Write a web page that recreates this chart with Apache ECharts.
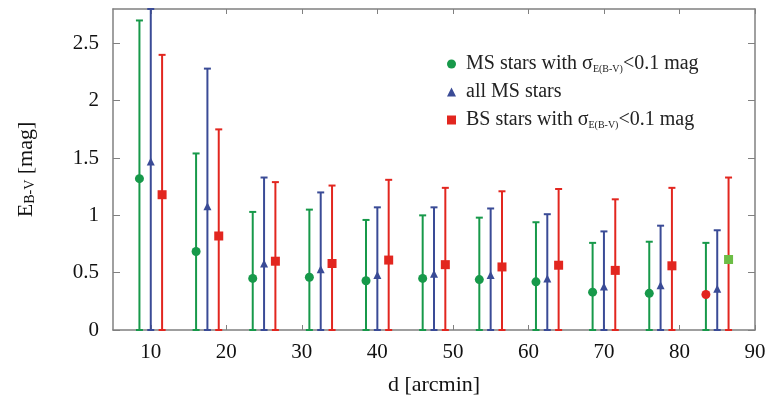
<!DOCTYPE html>
<html>
<head>
<meta charset="utf-8">
<script src="https://cdn.jsdelivr.net/npm/echarts@6/dist/echarts.min.js"></script>
<style>
  html, body { margin: 0; background: #fff; }
  #chart { width: 770px; height: 400px; }
</style>
</head>
<body>
<div id="chart"></div>
<script>
// distance of each bin (arcmin), the three samples are drawn side by side
const dMS = [8.5, 16, 23.5, 31, 38.5, 46, 53.5, 61, 68.5, 76, 83.5]
const dAll = [10, 17.5, 25, 32.5, 40, 47.5, 55, 62.5, 70, 77.5, 85]
const dBS = [11.5, 19, 26.5, 34, 41.5, 49, 56.5, 64, 71.5, 79, 86.5]

// mean E(B-V) and upper end of error bar (lower end is clipped at 0)
const ebvMS = [1.32, 0.685, 0.45, 0.46, 0.43, 0.45, 0.44, 0.42, 0.33, 0.32, 0.31]
const ebvMSHigh = [2.70, 1.54, 1.03, 1.05, 0.96, 1.00, 0.98, 0.94, 0.76, 0.77, 0.76]
const ebvAll = [1.47, 1.08, 0.58, 0.53, 0.48, 0.49, 0.48, 0.45, 0.38, 0.39, 0.36]
const ebvAllHigh = [2.80, 2.28, 1.33, 1.20, 1.07, 1.07, 1.06, 1.01, 0.86, 0.91, 0.87]
const ebvBS = [1.18, 0.82, 0.60, 0.58, 0.61, 0.57, 0.55, 0.565, 0.52, 0.56, 0.615]
const ebvBSHigh = [2.40, 1.75, 1.29, 1.26, 1.31, 1.24, 1.21, 1.23, 1.14, 1.24, 1.33]

const xTicks = [10, 20, 30, 40, 50, 60, 70, 80, 90]
const yTicks = [0, 0.5, 1, 1.5, 2, 2.5]

const GREEN = '#17994a'
const BLUE = '#3a4b96'
const RED = '#e2261f'
const LIGHT_GREEN = '#6cbd45'
const AXIS = '#808080'
const FONT = 'Liberation Serif'
const Y_MIN = 0

function errorBars(xs, hi, color) {
  return {
    type: 'custom',
    silent: true,
    z: 2,
    data: xs.map((x, i) => [x, Y_MIN, hi[i]]),
    renderItem(params, api) {
      const top = api.coord([api.value(0), api.value(2)])
      const bot = api.coord([api.value(0), api.value(1)])
      const w = 3.5
      const style = { stroke: color, lineWidth: 2 }
      return {
        type: 'group',
        children: [
          { type: 'line', shape: { x1: top[0], y1: top[1], x2: bot[0], y2: bot[1] }, style },
          { type: 'line', shape: { x1: top[0] - w, y1: top[1], x2: top[0] + w, y2: top[1] }, style },
          { type: 'line', shape: { x1: bot[0] - w, y1: bot[1], x2: bot[0] + w, y2: bot[1] }, style },
        ],
      }
    },
  }
}

// last bin uses swapped colours in the original figure
function points(name, xs, ys, symbol, size, color, lastColor) {
  return {
    type: 'scatter',
    name,
    symbol,
    symbolSize: size,
    z: 3,
    itemStyle: { color, opacity: 1 },
    data: xs.map((x, i) =>
      i === xs.length - 1 && lastColor
        ? { value: [x, ys[i]], itemStyle: { color: lastColor } }
        : [x, ys[i]]
    ),
  }
}

const legendNames = {
  ms: 'MS stars with σ{sub|E(B-V)}<0.1 mag',
  all: 'all MS stars',
  bs: 'BS stars with σ{sub|E(B-V)}<0.1 mag',
}

const axisCommon = {
  type: 'value',
  axisLine: { show: true, onZero: false, lineStyle: { color: AXIS, width: 1.5 } },
  splitLine: { show: false },
}

const chart = echarts.init(document.getElementById('chart'))
chart.setOption({
  animation: false,
  backgroundColor: '#fff',
  grid: { left: 113, right: 15, top: 9, bottom: 70, outerBoundsMode: 'none' },
  legend: {
    orient: 'vertical',
    left: 442,
    top: 49,
    itemWidth: 9,
    itemHeight: 9,
    itemGap: 8,
    data: ['ms', 'all', 'bs'],
    formatter: (n) => legendNames[n],
    textStyle: {
      fontFamily: FONT,
      fontSize: 20,
      color: '#222',
      padding: [0, 0, 0, 5],
      rich: { sub: { fontFamily: FONT, fontSize: 10, color: '#222', verticalAlign: 'bottom', padding: [9, 0, 0, 0] } },
    },
  },
  xAxis: [
    {
      ...axisCommon,
      min: 5,
      max: 90,
      position: 'bottom',
      name: 'd [arcmin]',
      nameLocation: 'middle',
      nameGap: 44,
      nameTextStyle: { fontFamily: FONT, fontSize: 22, color: '#111' },
      axisTick: { inside: true, length: 5, customValues: xTicks, lineStyle: { color: AXIS } },
      axisLabel: { customValues: xTicks, fontFamily: FONT, fontSize: 21, color: '#111', margin: 12 },
    },
    {
      ...axisCommon,
      min: 5,
      max: 90,
      position: 'top',
      axisTick: { inside: true, length: 5, customValues: xTicks, lineStyle: { color: AXIS } },
      axisLabel: { show: false },
    },
  ],
  yAxis: [
    {
      ...axisCommon,
      min: 0,
      max: 2.8,
      position: 'left',
      name: 'E{sub|B-V} [mag]',
      nameLocation: 'middle',
      nameGap: 76,
      nameTextStyle: {
        fontFamily: FONT,
        fontSize: 22,
        color: '#111',
        rich: { sub: { fontFamily: FONT, fontSize: 14, color: '#111', verticalAlign: 'bottom', padding: [8, 0, 0, 0] } },
      },
      axisTick: { inside: true, length: 7, customValues: yTicks, lineStyle: { color: AXIS } },
      axisLabel: { customValues: yTicks, fontFamily: FONT, fontSize: 21, color: '#111', margin: 14 },
    },
    {
      ...axisCommon,
      min: 0,
      max: 2.8,
      position: 'right',
      axisTick: { inside: true, length: 7, customValues: yTicks, lineStyle: { color: AXIS } },
      axisLabel: { show: false },
    },
  ],
  series: [
    errorBars(dMS, ebvMSHigh, GREEN),
    errorBars(dAll, ebvAllHigh, BLUE),
    errorBars(dBS, ebvBSHigh, RED),
    points('ms', dMS, ebvMS, 'circle', 9, GREEN, RED),
    points('all', dAll, ebvAll, 'triangle', 8, BLUE),
    points('bs', dBS, ebvBS, 'rect', 9, RED, LIGHT_GREEN),
  ],
})
</script>
</body>
</html>
